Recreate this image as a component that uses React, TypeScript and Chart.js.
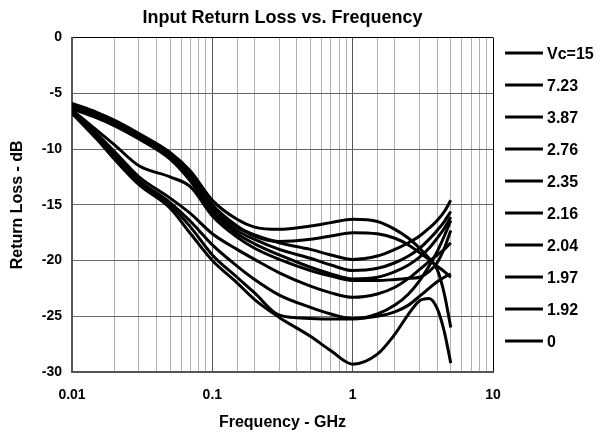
import React, { useEffect, useRef } from 'react';
import { Chart, registerables } from 'chart.js';

Chart.register(...registerables);

// Frequency sample points (GHz)
const frequencies = [0.01, 0.015, 0.02, 0.03, 0.05, 0.07, 0.1, 0.15, 0.2, 0.3, 0.5, 0.7, 1, 1.5, 2, 2.5, 3, 3.5, 4, 4.5, 5];

// Legend labels (control voltage)
const vcLabels = ['Vc=15', '7.23', '3.87', '2.76', '2.35', '2.16', '2.04', '1.97', '1.92', '0'];

// Return loss (dB) series
const rlA = [-5.9, -6.7, -7.4, -8.6, -10.3, -12.0, -14.6, -16.3, -17.0, -17.2, -16.9, -16.6, -16.3, -16.5, -17.2, -18.0, -18.9, -19.8, -20.8, -23.0, -26.0];
const rlB = [-6.1, -6.9, -7.6, -8.8, -10.5, -12.3, -15.0, -16.9, -17.8, -18.3, -18.1, -17.8, -17.5, -17.6, -18.0, -18.6, -19.3, -19.9, -20.5, -21.0, -21.5];
const rlC = [-6.2, -7.0, -7.7, -8.9, -10.6, -12.5, -15.3, -17.0, -17.7, -18.4, -19.0, -19.5, -19.9, -19.6, -19.0, -18.4, -17.8, -17.1, -16.4, -15.6, -14.6];
const rlD = [-6.3, -7.1, -7.8, -9.0, -10.8, -12.7, -15.5, -17.3, -18.1, -19.0, -19.8, -20.4, -20.9, -20.7, -20.2, -19.6, -18.9, -18.1, -17.3, -16.5, -15.6];
const rlE = [-6.4, -7.2, -7.9, -9.1, -10.9, -12.9, -15.7, -17.6, -18.5, -19.5, -20.6, -21.2, -21.65, -21.5, -21.0, -20.4, -19.7, -18.9, -18.0, -17.1, -16.1];
const rlF = [-6.5, -8.3, -9.6, -11.5, -12.5, -13.4, -16.0, -17.9, -18.9, -19.9, -20.9, -21.4, -21.8, -21.8, -21.7, -21.6, -21.5, -21.0, -20.2, -18.9, -17.3];
const rlG = [-6.5, -8.6, -10.2, -12.5, -14.4, -15.8, -17.6, -19.0, -19.9, -21.1, -22.3, -22.9, -23.3, -23.0, -22.4, -21.6, -20.8, -20.1, -19.5, -19.0, -18.4];
const rlH = [-6.6, -8.8, -10.5, -12.8, -14.8, -16.5, -18.6, -20.5, -21.7, -23.1, -24.2, -24.8, -25.2, -25.0, -24.6, -24.0, -23.2, -22.5, -21.9, -21.5, -21.2];
const rlI = [-6.7, -9.0, -10.8, -13.0, -15.0, -17.0, -19.5, -21.5, -22.9, -24.9, -25.2, -25.25, -25.25, -24.8, -24.0, -23.0, -21.8, -20.5, -19.2, -17.8, -16.4];
const rlJ = [-6.8, -9.1, -10.9, -13.2, -15.3, -17.6, -20.0, -22.0, -23.5, -25.1, -26.8, -28.1, -29.3, -28.4, -26.6, -24.8, -23.6, -23.4, -24.3, -26.4, -29.2];

const allSeries = [rlA, rlB, rlC, rlD, rlE, rlF, rlG, rlH, rlI, rlJ];

// Axis ticks
const xTickLabels = [0.01, 0.1, 1, 10];
const yMin = -30;
const yMax = 0;
const yStep = 5;

const FONT = '"Liberation Sans", Arial, Helvetica, sans-serif';

const isDecade = (v: number) => Math.abs(Math.log10(v) - Math.round(Math.log10(v))) < 1e-6;

const sideLegend = {
  id: 'sideLegend',
  afterDraw(chart: any) {
    const { ctx, chartArea } = chart;
    ctx.save();
    chart.data.datasets.forEach((ds: any, i: number) => {
      const y = chartArea.top + 15.5 + 32 * i;
      const x0 = chartArea.right + 12;
      ctx.strokeStyle = '#000';
      ctx.lineWidth = 3;
      ctx.beginPath();
      ctx.moveTo(x0, y);
      ctx.lineTo(x0 + 38, y);
      ctx.stroke();
      ctx.fillStyle = '#000';
      ctx.font = `bold 16px ${FONT}`;
      ctx.textBaseline = 'middle';
      ctx.textAlign = 'left';
      ctx.fillText(ds.label, x0 + 42, y + 1);
    });
    ctx.restore();
  },
};

export default function App() {
  const canvasRef = useRef<HTMLCanvasElement | null>(null);

  useEffect(() => {
    if (!canvasRef.current) return;
    Chart.defaults.font.family = FONT;
    const chart = new Chart(canvasRef.current, {
      type: 'line',
      data: {
        datasets: allSeries.map((s, i) => ({
          label: vcLabels[i],
          data: frequencies.map((f, j) => ({ x: f, y: s[j] })),
          borderColor: '#000',
          backgroundColor: '#000',
          borderWidth: 3,
          pointRadius: 0,
          fill: false,
          cubicInterpolationMode: 'monotone' as const,
        })),
      },
      options: {
        animation: false,
        responsive: true,
        maintainAspectRatio: false,
        layout: { padding: { left: 0, right: 107, top: 0, bottom: 0 } },
        plugins: {
          legend: { display: false },
          tooltip: { enabled: false },
          title: {
            display: true,
            text: 'Input Return Loss vs. Frequency',
            color: '#000',
            font: { size: 18, weight: 'bold', family: FONT },
            padding: { top: 7, bottom: 9 },
            fullSize: false,
          },
        },
        scales: {
          x: {
            type: 'logarithmic',
            min: 0.01,
            max: 10,
            afterFit: (scale: any) => { scale.height = 66; },
            border: { color: '#555', width: 2 },
            grid: {
              drawTicks: false,
              lineWidth: 1,
              color: (c: any) => {
                const v = c.tick ? c.tick.value : 0;
                if (Math.abs(v - 10) < 1e-9) return '#000';
                return isDecade(v) ? '#555' : '#b0b0b0';
              },
            },
            ticks: {
              autoSkip: false,
              maxRotation: 0,
              padding: 15,
              color: '#000',
              font: { size: 14, weight: 'bold', family: FONT },
              callback: (value: any) => {
                const v = Number(value);
                const m = xTickLabels.find((t) => Math.abs(t - v) / t < 1e-6);
                return m !== undefined ? String(m) : '';
              },
            },
            title: {
              display: true,
              text: 'Frequency - GHz',
              color: '#000',
              font: { size: 16, weight: 'bold', family: FONT },
              padding: { top: 0, bottom: 6 },
            },
          },
          y: {
            type: 'linear',
            min: yMin,
            max: yMax,
            afterFit: (scale: any) => { scale.width = 72; },
            border: { color: '#555', width: 2 },
            grid: {
              drawTicks: false,
              lineWidth: 1,
              color: (c: any) => (c.tick && c.tick.value === 0 ? '#000' : '#666'),
            },
            ticks: {
              stepSize: yStep,
              padding: 10,
              color: '#000',
              font: { size: 14, weight: 'bold', family: FONT },
            },
            title: {
              display: true,
              text: 'Return Loss - dB',
              color: '#000',
              font: { size: 16, weight: 'bold', family: FONT },
              padding: { top: 8, bottom: 0 },
            },
          },
        },
      },
      plugins: [sideLegend],
    } as any);
    return () => chart.destroy();
  }, []);

  return (
    <div style={{ position: 'absolute', left: 0, top: 0, width: 600, height: 438 }}>
      <canvas ref={canvasRef} />
    </div>
  );
}
